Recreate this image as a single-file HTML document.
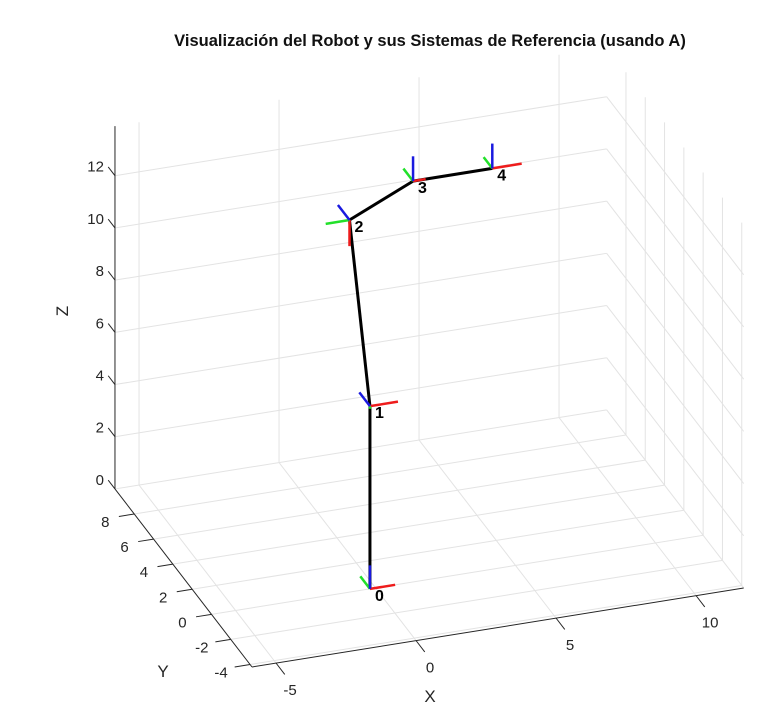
<!DOCTYPE html>
<html><head><meta charset="utf-8"><style>
body{margin:0;background:#fff;}
svg{display:block;font-family:"Liberation Sans",Arial,sans-serif;}
</style></head><body>
<svg id="c" width="772" height="726" viewBox="0 0 772 726">
<rect width="772" height="726" fill="#fff"/>
<text x="430" y="46" text-anchor="middle" font-size="16.5" font-weight="bold" fill="#111">Visualización del Robot y sus Sistemas de Referencia (usando A)</text>
<g id="grid"></g><g id="axes"></g><g id="robot"></g>
<text x="430" y="702" text-anchor="middle" font-size="17" fill="#262626">X</text>
<text x="163" y="677" text-anchor="middle" font-size="17" fill="#262626">Y</text>
<text x="0" y="0" transform="translate(68,311) rotate(-90)" text-anchor="middle" font-size="17" fill="#262626">Z</text>
</svg>
<script>
const xTicks=[-5,0,5,10];
const yTicks=[-4,-2,0,2,4,6,8];
const zTicks=[0,2,4,6,8,10,12];
const xLim=[-5.86,11.7];
const yLim=[-4.2,10];
const zLim=[0,13.9];
const jointLabels=['0','1','2','3','4'];
const jointX=[-0.2,-0.2,0,2.27,5.1];
const jointY=[0,0,2.7,2.7,2.7];
const jointZ=[0,7,12.8,13.9,13.9];
const frameRed=[[0.9,0,0],[1,0,0],[0,0,-1],[0.45,0,0],[1.05,0,0]];
const frameGreen=[[0,1,0],[0,0,-0.1],[-0.85,0,0],[0,1,0],[0,0.9,0]];
const frameBlue=[[0,0,0.9],[0,1.1,0],[0,1.2,0],[0,0,0.95],[0,0,0.95]];

const O=[252,667], ex=[28,-4.5], ey=[-9.65,-12.54], ez=[0,-26.1];
function P(x,y,z){const a=x-xLim[0],b=y-yLim[0];return [O[0]+a*ex[0]+b*ey[0]+z*ez[0],O[1]+a*ex[1]+b*ey[1]+z*ez[1]];}
const NS='http://www.w3.org/2000/svg';
function line(g,p,q,col,w,name){const l=document.createElementNS(NS,'line');
l.setAttribute('x1',p[0]);l.setAttribute('y1',p[1]);l.setAttribute('x2',q[0]);l.setAttribute('y2',q[1]);
l.setAttribute('stroke',col);l.setAttribute('stroke-width',w);l.setAttribute('stroke-linecap','butt');


g.appendChild(l);return l;}
function text(g,x,y,s,anchor,size,w,name){const t=document.createElementNS(NS,'text');
t.setAttribute('x',x);t.setAttribute('y',y);t.setAttribute('text-anchor',anchor);t.setAttribute('font-size',size);
t.setAttribute('fill',w?'#000':'#262626');if(w)t.setAttribute('font-weight','bold');t.textContent=s;


g.appendChild(t);}
const G=document.getElementById('grid'),A=document.getElementById('axes'),R=document.getElementById('robot');
const gc='#e3e3e3';
xTicks.forEach(x=>line(G,P(x,yLim[0],0),P(x,yLim[1],0),gc,1,'floor-grid-x'));
yTicks.forEach(y=>line(G,P(xLim[0],y,0),P(xLim[1],y,0),gc,1,'floor-grid-y'));
xTicks.forEach(x=>line(G,P(x,yLim[1],0),P(x,yLim[1],zLim[1]),gc,1,'back-grid-x'));
zTicks.forEach(z=>line(G,P(xLim[0],yLim[1],z),P(xLim[1],yLim[1],z),gc,1,'back-grid-z'));
yTicks.forEach(y=>line(G,P(xLim[1],y,0),P(xLim[1],y,zLim[1]),gc,1,'side-grid-y'));
zTicks.forEach(z=>line(G,P(xLim[1],yLim[0],z),P(xLim[1],yLim[1],z),gc,1,'side-grid-z'));
const ac='#262626';
line(A,P(xLim[0],yLim[0],0),P(xLim[1],yLim[0],0),ac,1,'x-axis-line');
line(A,P(xLim[0],yLim[0],0),P(xLim[0],yLim[1],0),ac,1,'y-axis-line');
line(A,P(xLim[0],yLim[1],0),P(xLim[0],yLim[1],zLim[1]),ac,1,'z-axis-line');
xTicks.forEach(x=>{const p=P(x,yLim[0],0);line(A,p,P(x,yLim[0]-0.9,0),ac,1,'x-tick');
text(A,p[0]+14,p[1]+32,String(x),'middle',15,false,'x-tick-label');});
yTicks.forEach(y=>{const p=P(xLim[0],y,0);line(A,p,P(xLim[0]-0.55,y,0),ac,1,'y-tick');
text(A,p[0]-29,p[1]+13,String(y),'middle',15,false,'y-tick-label');});
zTicks.forEach(z=>{const p=P(xLim[0],yLim[1],z);line(A,p,P(xLim[0],yLim[1]+0.7,z),ac,1,'z-tick');
text(A,p[0]-11,p[1]-4,String(z),'end',15,false,'z-tick-label');});
for(let i=0;i<jointX.length-1;i++){
 line(R,P(jointX[i],jointY[i],jointZ[i]),P(jointX[i+1],jointY[i+1],jointZ[i+1]),'#000',3,'robot-link-'+(i+1));}
const cols=['#ee1c1c','#22e02a','#1a1adf'],sets=[frameRed,frameGreen,frameBlue],nm=['x','y','z'];
jointX.forEach((x,i)=>{const y=jointY[i],z=jointZ[i],p=P(x,y,z);
 sets.forEach((s,k)=>{const d=s[i];line(R,p,P(x+d[0],y+d[1],z+d[2]),cols[k],2.5,'frame-'+i+'-'+nm[k]+'-axis');});});
jointX.forEach((x,i)=>{const p=P(x,jointY[i],jointZ[i]);
 text(R,p[0]+5,p[1]+12,jointLabels[i],'start',16,true,'joint-label-'+i);});
</script>
</body></html>
